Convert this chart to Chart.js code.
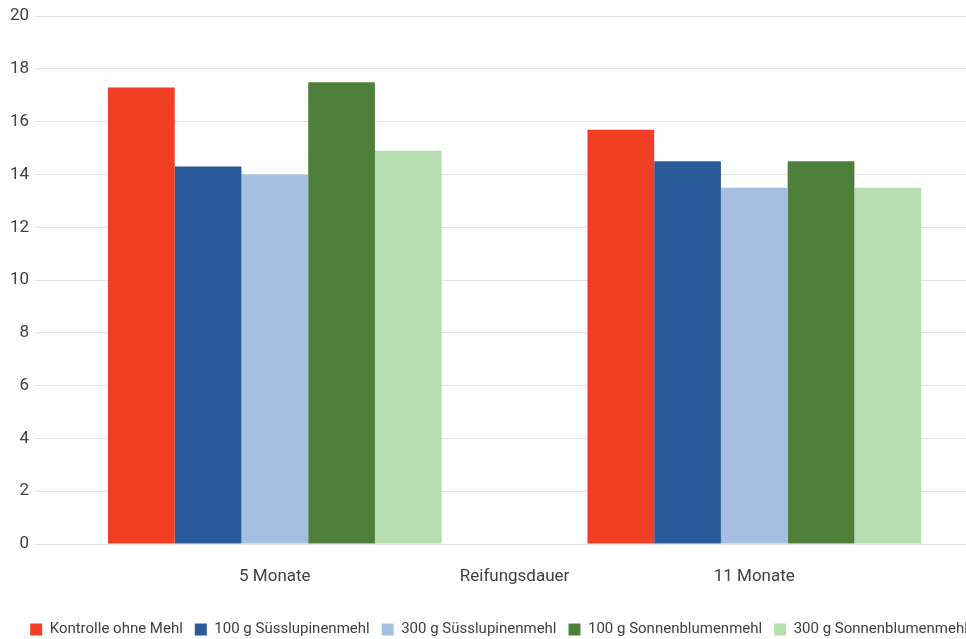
<!DOCTYPE html>
<html>
<head>
<meta charset="utf-8">
<script src="https://cdn.jsdelivr.net/npm/chart.js@4"></script>
<style>
  html, body { margin: 0; padding: 0; background: #ffffff; overflow: hidden; width: 966px; height: 639px; }
  #wrap { position: absolute; left: 0; top: 0; width: 1028px; height: 647px; }
</style>
</head>
<body>
<div id="wrap"><canvas id="c"></canvas></div>
<script>
const categories = ['5 Monate', '11 Monate'];
const seriesNames = ['Kontrolle ohne Mehl', '100 g Süsslupinenmehl', '300 g Süsslupinenmehl', '100 g Sonnenblumenmehl', '300 g Sonnenblumenmehl'];
const kontrolle = [17.3, 15.7];
const suesslupine100 = [14.3, 14.5];
const suesslupine300 = [14.0, 13.5];
const sonnenblume100 = [17.5, 14.5];
const sonnenblume300 = [14.9, 13.5];
const seriesColors = ['#F03F24', '#2B5A9B', '#A6BFE0', '#4E803B', '#B9DDB2'];
const xAxisTitle = 'Reifungsdauer';
const yMin = 0, yMax = 20, yStep = 2;

const values = [kontrolle, suesslupine100, suesslupine300, sonnenblume100, sonnenblume300];
const FONT = 'Roboto, "Noto Sans", sans-serif';
const textColor = '#404040';
const X_TICK_PAD = 7;
const X_TICK_LH = 52;
const AXIS_FONT_SIZE = 17;

// Draws the x-axis title on the same row as the category labels (as in the reference)
const inlineAxisTitle = {
  id: 'inlineAxisTitle',
  afterDraw(chart) {
    const xs = chart.scales.x;
    const ctx = chart.ctx;
    ctx.save();
    ctx.font = AXIS_FONT_SIZE + 'px ' + FONT;
    ctx.fillStyle = textColor;
    ctx.textAlign = 'center';
    ctx.textBaseline = 'middle';
    ctx.fillText(xAxisTitle, (xs.left + xs.right) / 2, xs.top + X_TICK_PAD + X_TICK_LH / 2);
    ctx.restore();
  }
};

new Chart(document.getElementById('c'), {
  type: 'bar',
  data: {
    labels: categories,
    datasets: values.map((v, i) => ({
      label: seriesNames[i],
      data: v,
      backgroundColor: seriesColors[i],
      borderWidth: 0,
      categoryPercentage: 0.696,
      barPercentage: 1.0
    }))
  },
  plugins: [inlineAxisTitle],
  options: {
    responsive: true,
    maintainAspectRatio: false,
    animation: false,
    layout: { padding: { left: 4, right: 34, top: 15, bottom: 0 } },
    plugins: {
      title: { display: false },
      tooltip: { enabled: false },
      legend: {
        position: 'bottom',
        labels: {
          boxWidth: 12,
          boxHeight: 12,
          padding: 12,
          color: textColor,
          font: { family: FONT, size: 15 }
        }
      }
    },
    scales: {
      x: {
        grid: { display: false, drawTicks: false },
        border: { display: false },
        ticks: {
          color: textColor,
          font: { family: FONT, size: AXIS_FONT_SIZE, lineHeight: X_TICK_LH + 'px' },
          padding: X_TICK_PAD
        }
      },
      y: {
        min: yMin,
        max: yMax,
        grid: { color: '#e2e2e2', drawTicks: false, lineWidth: 1 },
        border: { display: false },
        ticks: { stepSize: yStep, color: textColor, font: { family: FONT, size: 17 }, padding: 6 }
      }
    }
  }
});
</script>
</body>
</html>
